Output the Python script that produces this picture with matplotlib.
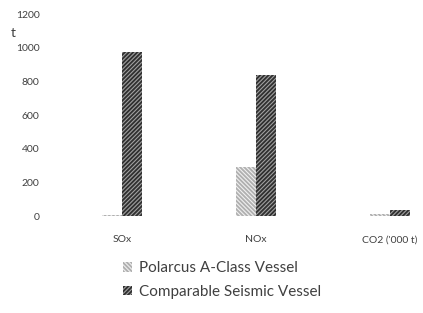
import matplotlib
matplotlib.use('Agg')
import matplotlib.pyplot as plt
import numpy as np

plt.rcParams['font.family'] = ['Lato', 'DejaVu Sans']
plt.rcParams['hatch.linewidth'] = 0.8

categories = ['SOx', 'NOx', "CO2 ('000 t)"]
polarcus = [5, 292, 12]
comparable = [976, 839, 36]
series_names = ['Polarcus A-Class Vessel', 'Comparable Seismic Vessel']
yticks = [0, 200, 400, 600, 800, 1000, 1200]

fig = plt.figure(figsize=(4.23, 3.13), dpi=100)
ax = fig.add_axes([55/423, 97/313, 366/423, 202/313])

x = np.arange(len(categories))
w = 0.15
ax.bar(x - w/2, polarcus, w, color='#b0b0b0', hatch='\\\\\\\\\\\\\\\\', edgecolor='#f0f0f0', linewidth=0, label=series_names[0])
ax.bar(x + w/2, comparable, w, color='#303030', hatch='////////', edgecolor='#a0a0a0', linewidth=0, label=series_names[1])

ax.set_xlim(-0.5, 2.23)
ax.set_ylim(0, 1200)
ax.set_yticks(yticks)
ax.set_xticks(x)
ax.set_xticklabels(categories)
for s in ax.spines.values():
    s.set_visible(False)
ax.tick_params(axis='both', length=0, labelsize=7.5, labelcolor='#404040')
ax.tick_params(axis='y', pad=11)
ax.tick_params(axis='x', pad=14)

fig.text(11/423, 1 - 33/313, 't', fontsize=10, color='#404040', va='center')

fig.legend(loc='center', bbox_to_anchor=(0.525, 1 - 280/313), frameon=False, fontsize=11,
           labelcolor='#404040', handlelength=0.6, handleheight=0.6, handletextpad=0.5,
           labelspacing=0.65)

fig.savefig('out.png', dpi=100)
